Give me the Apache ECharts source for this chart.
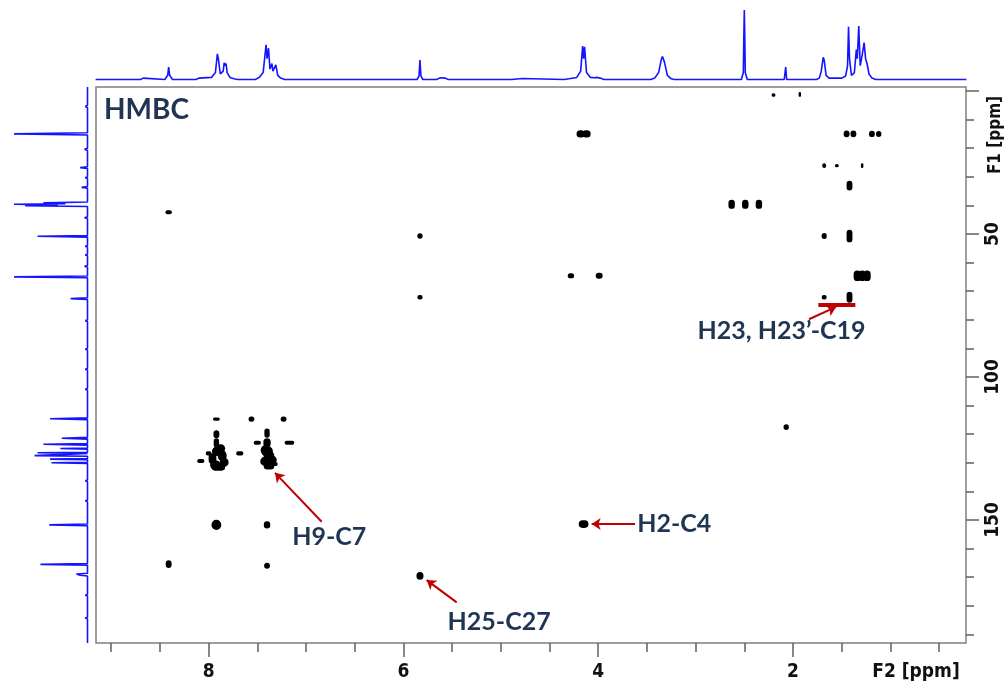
<!DOCTYPE html>
<html><head><meta charset="utf-8">
<script src="https://cdn.jsdelivr.net/npm/echarts@6/dist/echarts.min.js"></script>
<style>html,body{margin:0;padding:0;background:#fff;}#c{width:1008px;height:683px;}</style>
</head><body><div id="c"></div>
<script>
// ---------------- DATA ----------------
// F2 (1H) axis ticks / labels, ppm
const f2Ticks = [0.5,1,1.5,2,2.5,3,3.5,4,4.5,5,5.5,6,6.5,7,7.5,8,8.5,9];
const f2Labels = [2,4,6,8];
// F1 (13C) axis ticks / labels, ppm
const f1Ticks = [0,10,20,30,40,50,60,70,80,90,100,110,120,130,140,150,160,170,180,190];
const f1MajorTicks = [0,50,100,150];
const f1Labels = [50,100,150];

// HMBC cross peaks: [1H ppm, 13C ppm, width in 1H ppm, width in 13C ppm]
const crossPeaks = [
  [2.20,1.4,0.04,1.3],[1.93,1.2,0.025,1.7],
  [4.18,15.0,0.085,2.5],[4.12,15.0,0.085,2.5],
  [1.45,15.0,0.06,2.3],[1.38,15.0,0.06,2.3],[1.19,15.0,0.06,2.2],[1.12,15.0,0.055,2.1],
  [1.68,26.1,0.04,1.6],[1.55,26.1,0.04,1.2],[1.29,26.1,0.025,1.6],
  [1.42,33.1,0.06,3.4],
  [2.63,39.6,0.066,3.2],[2.49,39.6,0.066,3.2],[2.35,39.6,0.066,3.2],
  [8.41,42.4,0.066,1.4],
  [5.83,50.7,0.055,1.9],[1.68,50.7,0.052,2.1],[1.42,50.7,0.06,4.4],
  [4.28,64.6,0.066,1.8],[3.99,64.6,0.072,2.1],
  [1.34,64.6,0.075,3.7],[1.29,64.6,0.075,3.7],[1.24,64.6,0.075,3.7],
  [5.83,72.1,0.055,1.6],[1.68,72.1,0.052,1.6],[1.42,72.1,0.06,3.9],
  [7.92,114.7,0.07,1.1],[7.56,114.7,0.06,1.8],[7.23,114.7,0.06,1.8],
  [2.07,117.5,0.055,2.0],
  [7.92,120.0,0.06,2.7],[7.92,123.0,0.055,3.2],[7.92,126.0,0.09,3.2],[7.86,127.5,0.09,3.7],
  [7.96,128.5,0.08,3.7],[7.84,129.8,0.09,3.2],[7.93,130.8,0.11,3.2],
  [7.88,125.0,0.1,3.0],[7.90,131.5,0.14,2.5],
  [8.08,129.4,0.075,1.4],[8.00,126.7,0.06,1.4],[7.68,126.7,0.075,1.4],
  [7.40,119.6,0.055,3.2],[7.40,123.0,0.075,3.2],[7.42,125.5,0.09,3.2],[7.38,127.5,0.11,3.7],
  [7.42,129.5,0.1,3.2],[7.38,131.0,0.11,2.7],
  [7.40,126.0,0.12,3.5],[7.36,129.0,0.12,3.0],
  [7.50,123.0,0.075,1.4],[7.17,123.0,0.1,1.4],[7.34,130.4,0.1,1.4],
  [7.92,151.7,0.1,3.6],[7.40,151.7,0.066,2.5],[4.15,151.4,0.1,2.7],
  [8.41,165.4,0.06,2.7],[7.40,166.0,0.06,2.1],[5.83,169.5,0.072,2.7]
];

// 1H spectrum (top trace): [ppm, relative intensity]
const protonSpectrum = [
  [9.16,0],[8.70,0],[8.67,0.02],[8.65,0],
  [8.45,0],[8.42,0.06],[8.41,0.18],[8.40,0.06],[8.37,0],
  [8.13,0],[8.10,0.02],[7.97,0.03],[7.93,0.1],[7.91,0.37],[7.90,0.3],[7.88,0.08],[7.85,0.12],
  [7.84,0.24],[7.83,0.2],[7.82,0.23],[7.81,0.1],[7.78,0.03],[7.74,0.01],[7.70,0],
  [7.52,0],[7.48,0.03],[7.44,0.1],[7.41,0.5],[7.40,0.3],[7.385,0.45],[7.37,0.15],[7.35,0.23],
  [7.34,0.12],[7.31,0.21],[7.29,0.06],[7.26,0.02],[7.22,0],
  [5.86,0],[5.84,0.05],[5.83,0.28],[5.82,0.05],[5.80,0],
  [5.66,0],[5.63,0.02],[5.60,0.025],[5.57,0.02],[5.54,0],
  [4.89,0],[4.87,0.015],[4.78,0.015],[4.76,0],
  [4.35,0],[4.30,0.01],[4.22,0.03],[4.18,0.12],[4.16,0.48],[4.15,0.3],[4.14,0.47],[4.12,0.1],
  [4.08,0.03],[4.04,0.025],[4.01,0.03],[3.98,0.02],[3.94,0],
  [3.46,0],[3.42,0.02],[3.38,0.1],[3.35,0.3],[3.34,0.33],[3.32,0.25],[3.29,0.06],[3.25,0.01],[3.22,0],
  [2.53,0],[2.51,0.1],[2.505,0.6],[2.50,1.0],[2.495,0.6],[2.49,0.1],[2.47,0],
  [2.09,0],[2.075,0.18],[2.065,0],
  [1.76,0],[1.73,0.02],[1.71,0.12],[1.69,0.32],[1.68,0.28],[1.66,0.06],[1.63,0.02],[1.59,0.02],
  [1.57,0.03],[1.55,0.02],[1.50,0.02],[1.46,0.05],[1.44,0.2],[1.43,0.76],[1.42,0.3],[1.40,0.06],
  [1.37,0.1],[1.35,0.43],[1.34,0.3],[1.325,0.77],[1.31,0.2],[1.29,0.35],[1.27,0.53],[1.255,0.3],
  [1.24,0.23],[1.22,0.08],[1.19,0.02],[1.15,0],
  [0.22,0]
];

// 13C spectrum (left trace): [ppm, relative intensity]
const carbonSpectrum = [
  [-1.4,0],[5.0,0],[5.4,0.03],[5.8,0],
  [14.6,0],[15.0,1.0],[15.4,0],
  [20.0,0],[20.4,0.04],[20.8,0],
  [26.5,0],[26.8,0.1],[27.1,0],
  [30.0,0],[30.3,0.03],[30.6,0],
  [33.4,0],[33.7,0.08],[34.0,0],
  [38.8,0],[39.1,0.6],[39.4,0.3],[39.6,1.0],[39.8,0.4],[40.1,0.85],[40.4,0],
  [44.0,0],[44.3,0.04],[44.6,0],
  [50.5,0],[50.8,0.68],[51.1,0],
  [54.0,0],[54.3,0.03],[54.6,0],
  [57.0,0],[57.3,0.03],[57.6,0],
  [61.0,0],[61.3,0.04],[61.6,0],
  [64.7,0],[65.0,1.0],[65.3,0],
  [72.3,0],[72.6,0.23],[72.9,0],
  [80.0,0],[80.3,0.03],[80.6,0],
  [90.0,0],[90.3,0.03],[90.6,0],
  [97.0,0],[97.3,0.03],[97.6,0],
  [104.0,0],[104.3,0.03],[104.6,0],
  [114.3,0],[114.6,0.51],[114.9,0],
  [121.1,0],[121.4,0.35],[121.7,0],
  [123.3,0],[123.5,0.6],[123.8,0],
  [124.8,0],[125.0,0.37],[125.2,0],
  [126.3,0],[126.5,0.68],[126.7,0],
  [127.3,0],[127.5,0.72],[127.7,0],
  [128.5,0],[128.7,0.51],[128.9,0],
  [129.8,0],[130.0,0.49],[130.2,0],
  [136.0,0],[136.3,0.03],[136.6,0],
  [143.0,0],[143.3,0.03],[143.6,0],
  [151.4,0],[151.7,0.52],[152.0,0],
  [165.2,0],[165.5,0.64],[165.8,0],
  [168.6,0],[168.9,0.15],[169.3,0.1],[169.6,0],
  [176.0,0],[176.3,0.03],[176.6,0],
  [184.0,0],[184.3,0.03],[184.6,0],
  [193.0,0]
];

// Annotations: label text and anchor (1H ppm, 13C ppm)
const annotationTexts = ['H9-C7','H2-C4','H25-C27','H23, H23\u2019-C19'];
const annotationAnchors = [[7.147,155.9],[3.605,151.4],[5.552,185.7],[2.986,84.0]];
// Arrows: [from 1H, from 13C, to 1H, to 13C]
const arrows = [
  [6.839,150.6,7.318,133.5],
  [3.622,151.4,4.067,151.4],
  [5.453,178.8,5.761,171.0],
  [1.836,79.8,1.558,75.5]
];
// Bracket under H23/H23' peaks: [from 1H, to 1H, at 13C]
const bracket = [1.74,1.36,74.8];

// ---------------- CHART ----------------
const X_MIN = 0.224, X_MAX = 9.156, Y_MIN = -1.4, Y_MAX = 193;
const G_LEFT = 96, G_TOP = 87, GRID_W = 870, GRID_H = 556;
const AX_FONT = "'Liberation Sans Narrow','DejaVu Sans Condensed',sans-serif";
const ANN_FONT = "Lato,'Open Sans',sans-serif";
const NAVY = '#1f3552', RED = '#c00000', BLUE = '#1414ff', TICK = '#606060';

const chart = echarts.init(document.getElementById('c'), null, {renderer:'canvas'});

const markData = arrows.map(a => [{coord:[a[0],a[1]]},{coord:[a[2],a[3]]}]);
markData.push([
  {coord:[bracket[0],bracket[2]], symbol:'none', lineStyle:{width:4, color:RED}},
  {coord:[bracket[1],bracket[2]], symbol:'none'}
]);

const tickStyle = {color:TICK, width:1.5};
const noLine = {show:false, onZero:false};
const option = {
  animation:false,
  backgroundColor:'#fff',
  title:{text:'HMBC', left:104, top:96, padding:0,
    textStyle:{fontSize:28, fontWeight:'bold', color:NAVY, fontFamily:ANN_FONT}},
  grid:[
    // 0: 2D spectrum (minor ticks)
    {left:G_LEFT, top:G_TOP, width:GRID_W, height:GRID_H, show:true, borderColor:'#7f7f7f', borderWidth:1.5, backgroundColor:'transparent'},
    // 1: 1H trace on top
    {left:G_LEFT, top:10, width:GRID_W, height:69.5},
    // 2: 13C trace on the left
    {left:14, top:G_TOP, width:73.5, height:GRID_H},
    // 3: same frame as 0, carries the major ticks and labels
    {left:G_LEFT, top:G_TOP, width:GRID_W, height:GRID_H}
  ],
  xAxis:[
    {gridIndex:0, type:'value', min:X_MIN, max:X_MAX, inverse:true, position:'bottom',
      axisLine:noLine, splitLine:{show:false},
      axisTick:{show:true, length:9, customValues:f2Ticks, lineStyle:tickStyle},
      axisLabel:{show:false}},
    {gridIndex:1, type:'value', min:X_MIN, max:X_MAX, inverse:true, show:false, axisLine:noLine},
    {gridIndex:2, type:'value', min:0, max:1, inverse:true, show:false, axisLine:noLine},
    {gridIndex:3, type:'value', min:X_MIN, max:X_MAX, inverse:true, position:'bottom',
      axisLine:noLine, splitLine:{show:false},
      axisTick:{show:true, length:14, customValues:f2Labels, lineStyle:tickStyle},
      axisLabel:{customValues:f2Labels, margin:20, fontSize:19, fontWeight:'bold', fontFamily:AX_FONT, color:'#111'}}
  ],
  yAxis:[
    {gridIndex:0, type:'value', min:Y_MIN, max:Y_MAX, inverse:true, position:'right',
      axisLine:noLine, splitLine:{show:false},
      axisTick:{show:true, length:8, customValues:f1Ticks, lineStyle:tickStyle},
      axisLabel:{show:false}},
    {gridIndex:1, type:'value', min:0, max:1, show:false, axisLine:noLine},
    {gridIndex:2, type:'value', min:Y_MIN, max:Y_MAX, inverse:true, show:false, axisLine:noLine},
    {gridIndex:3, type:'value', min:Y_MIN, max:Y_MAX, inverse:true, position:'right',
      axisLine:noLine, splitLine:{show:false},
      axisTick:{show:true, length:13, customValues:f1MajorTicks, lineStyle:tickStyle},
      axisLabel:{customValues:f1Labels, rotate:90, margin:18, fontSize:19, fontWeight:'bold', fontFamily:AX_FONT, color:'#111'}}
  ],
  graphic:[
    {type:'text', x:996, y:135, rotation:Math.PI/2,
      style:{text:'F1 [ppm]', font:"bold 17px 'Liberation Sans Narrow','DejaVu Sans Condensed',sans-serif", fill:'#111', textAlign:'center', textVerticalAlign:'middle'}},
    {type:'text', x:916, y:672,
      style:{text:'F2 [ppm]', font:"bold 19px 'Liberation Sans Narrow','DejaVu Sans Condensed',sans-serif", fill:'#111', textAlign:'center', textVerticalAlign:'middle'}}
  ],
  series:[
    {type:'custom', xAxisIndex:0, yAxisIndex:0, clip:true,
      encode:{x:0, y:1},
      data:crossPeaks,
      renderItem:function(params, api){
        const c = api.coord([api.value(0), api.value(1)]);
        const s = api.size([api.value(2), api.value(3)]);
        const w = Math.max(s[0],2), h = Math.max(s[1],2);
        return {type:'rect', shape:{x:c[0]-w/2, y:c[1]-h/2, width:w, height:h, r:Math.min(w,h)/2},
          style:{fill:'#000'}};
      }},
    {type:'line', xAxisIndex:1, yAxisIndex:1, data:protonSpectrum, showSymbol:false, clip:false,
      lineStyle:{color:BLUE, width:1.6}},
    {type:'line', xAxisIndex:2, yAxisIndex:2, data:carbonSpectrum.map(p => [p[1], p[0]]), showSymbol:false, clip:false,
      lineStyle:{color:BLUE, width:1.6}},
    {type:'scatter', xAxisIndex:0, yAxisIndex:0, symbolSize:1,
      itemStyle:{color:'#ffffff', opacity:1},
      data:annotationTexts.map((t,i) => ({name:t, value:annotationAnchors[i]})),
      label:{show:true, position:'right', distance:0, formatter:'{b}', color:NAVY, opacity:1,
        textBorderWidth:0, fontSize:25, fontWeight:'bold', fontFamily:ANN_FONT},
      markLine:{silent:true, symbol:['none','arrow'], symbolSize:9, precision:4,
        label:{show:false}, lineStyle:{color:RED, width:2, type:'solid', opacity:1},
        emphasis:{disabled:true}, data:markData}}
  ]
};
chart.setOption(option);
</script>
</body></html>
